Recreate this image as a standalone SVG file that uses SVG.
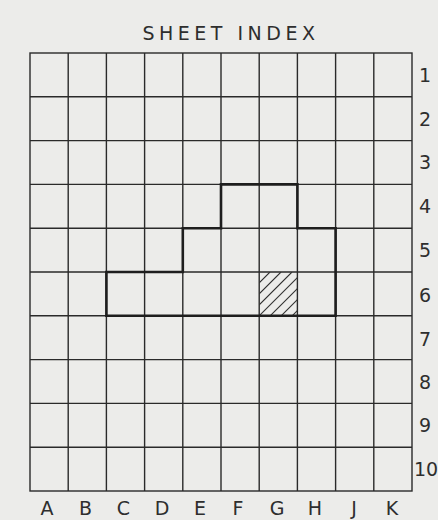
<svg xmlns="http://www.w3.org/2000/svg" width="438" height="520" viewBox="0 0 438 520">
<style>
.g{stroke:#2a2a2a;stroke-width:1.4;fill:none}
.b{stroke:#1e1e1e;stroke-width:2.6;fill:none;stroke-linejoin:miter}
.h{stroke:#333;stroke-width:1.1}
text{font-family:"DejaVu Sans","Liberation Sans",sans-serif;fill:#2e2e2e;font-size:19px}
.c{text-anchor:middle}
</style>
<defs>
<clipPath id="cg6"><rect x="259.2" y="272" width="38.2" height="43.8"/></clipPath>
</defs>
<rect width="438" height="520" fill="#ececea"/>
<text id="title" x="231" y="40" class="c" letter-spacing="4.5">SHEET  INDEX</text>
<g id="grid" class="g">
<rect x="30" y="53" width="382" height="438"/>
<path d="M68.2 53V491M106.4 53V491M144.6 53V491M182.8 53V491M221 53V491M259.2 53V491M297.4 53V491M335.6 53V491M373.8 53V491"/>
<path d="M30 96.8H412M30 140.6H412M30 184.4H412M30 228.2H412M30 272H412M30 315.8H412M30 359.6H412M30 403.4H412M30 447.2H412"/>
</g>
<g id="hatch" clip-path="url(#cg6)" class="h">
<path d="M259 283L270 272M259 294L281 272M259 305L292 272M259 316L303 272M265 321L309 277M276 321L309 288M287 321L309 299"/>
</g>
<g id="outline">
<path class="b" d="M221 184.4H297.4V228.2H335.6V315.8H106.4V272H182.8V228.2H221Z"/>
</g>
<g id="cols">
<text x="47" y="515" class="c">A</text>
<text x="85.5" y="515" class="c">B</text>
<text x="123.5" y="515" class="c">C</text>
<text x="162" y="515" class="c">D</text>
<text x="200" y="515" class="c">E</text>
<text x="238" y="515" class="c">F</text>
<text x="277" y="515" class="c">G</text>
<text x="315" y="515" class="c">H</text>
<text x="354" y="515" class="c">J</text>
<text x="392" y="515" class="c">K</text>
</g>
<g id="rows">
<text x="419" y="82">1</text>
<text x="419" y="126">2</text>
<text x="419" y="169">3</text>
<text x="419" y="213">4</text>
<text x="419" y="257">5</text>
<text x="419" y="302">6</text>
<text x="419" y="346">7</text>
<text x="419" y="389">8</text>
<text x="419" y="432">9</text>
<text x="414" y="476" font-size="17">10</text>
</g>
</svg>
